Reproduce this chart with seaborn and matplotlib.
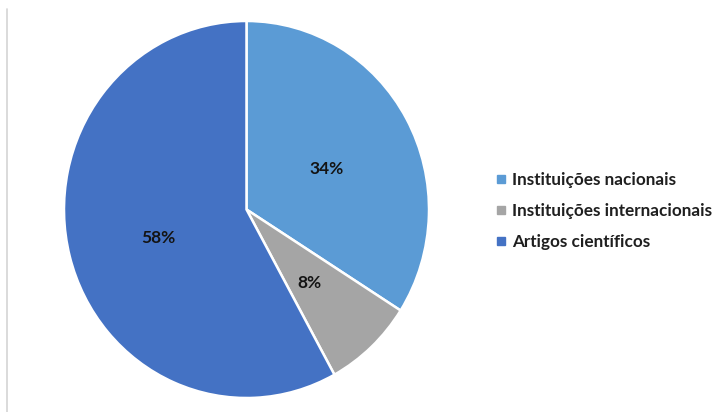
import matplotlib
matplotlib.use("Agg")
import matplotlib.pyplot as plt
from matplotlib.lines import Line2D
import seaborn as sns

categories = ["Instituições nacionais", "Instituições internacionais", "Artigos científicos"]
shares = [34, 8, 58]
colors = ["#5B9BD5", "#A5A5A5", "#4472C4"]

sns.set_theme(style="white")
plt.rcParams["font.family"] = ["Lato", "DejaVu Sans"]

W, H = 723, 412
fig = plt.figure(figsize=(W / 100, H / 100), dpi=100)

# pie area in pixel box
left, right, top, bottom = 64, 429, 21, 398
ax = fig.add_axes([left / W, 1 - bottom / H, (right - left) / W, (bottom - top) / H])

wedges, texts, autotexts = ax.pie(
    shares,
    colors=colors,
    startangle=90,
    counterclock=False,
    radius=1.0,
    autopct=lambda p: f"{p:.0f}%",
    pctdistance=0.5,
    wedgeprops=dict(edgecolor="white", linewidth=1.8),
    textprops=dict(color="#141414", fontsize=12.5, fontweight="bold"),
)
# nudge percentage labels slightly downward
for t in autotexts:
    x, y = t.get_position()
    t.set_position((x, y - 0.028))

ax.set_aspect("auto")
ax.set_xlim(-1, 1)
ax.set_ylim(-1, 1)
ax.axis("off")

handles = [Line2D([0], [0], marker="s", linestyle="none", markersize=6,
                  markerfacecolor=c, markeredgecolor=c) for c in colors]
fig.legend(handles, categories, loc="center left",
           bbox_to_anchor=(486 / W, 1 - 211 / H), frameon=False,
           labelspacing=0.9, handletextpad=0.15,
           handlelength=1.0, borderaxespad=0, labelcolor="#1f1f1f",
           prop=dict(weight="bold", size=12.3))

# thin frame edge on the left side
fig.add_artist(Line2D([7 / W, 7 / W], [0, 1 - 9 / H], color="#d4d4d4", linewidth=1.2,
                      transform=fig.transFigure))

fig.savefig("out.png", dpi=100, facecolor="white")
